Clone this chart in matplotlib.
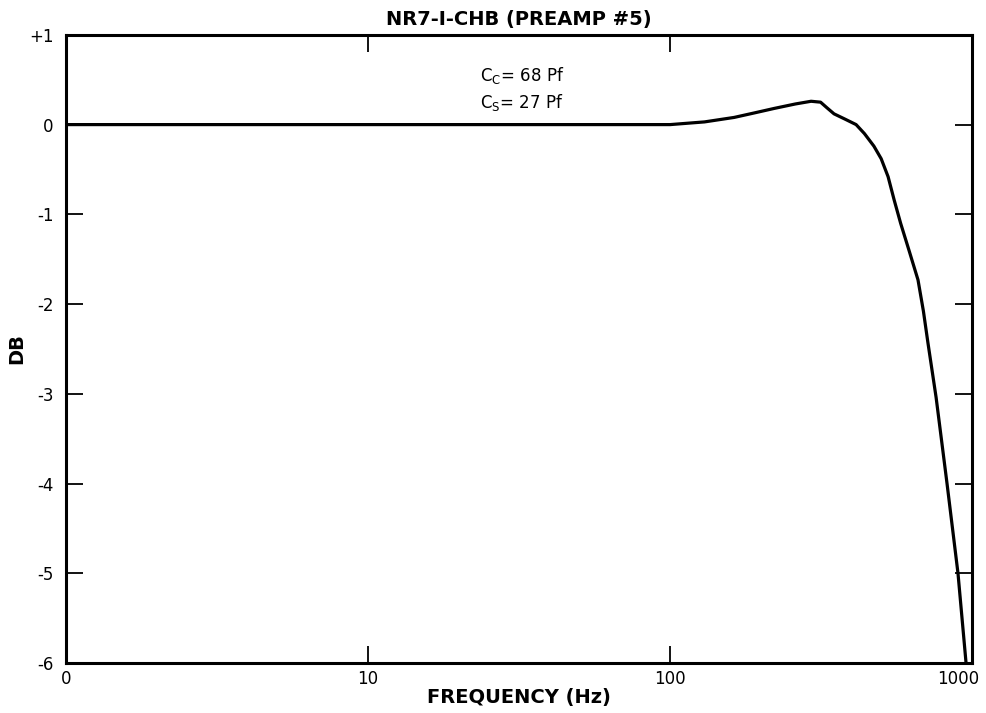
import matplotlib
matplotlib.use('Agg')
import matplotlib.pyplot as plt
import matplotlib.transforms as mtransforms

# response (frequency in Hz, level in dB)
freq = [1, 10, 100, 130, 163, 190, 221, 260, 293, 315, 330, 349, 380, 413, 440,
        473, 500, 527, 552, 580, 618, 662, 690, 714, 760, 826, 898, 955]
db = [0, 0, 0, 0.03, 0.08, 0.13, 0.18, 0.23, 0.26, 0.25, 0.19, 0.12, 0.06, 0.0, -0.1,
      -0.24, -0.38, -0.58, -0.84, -1.1, -1.40, -1.73, -2.08, -2.43, -3.04, -4.0, -5.0, -6.0]

xticks = [1, 10, 100, 1000]
xlabels = ['0', '10', '100', '1000']
yticks = [1, 0, -1, -2, -3, -4, -5, -6]
ylabels = ['+1', '0', '-1', '-2', '-3', '-4', '-5', '-6']

plt.rcParams['font.family'] = ['DejaVu Sans']

fig = plt.figure(figsize=(9.87, 7.13), dpi=100)
ax = fig.add_axes([0.0669, 0.0701, 0.918, 0.881])

ax.plot(freq, db, color='black', lw=2.3, solid_joinstyle='round', solid_capstyle='round')

ax.set_xscale('log')
ax.set_xlim(1, 1000)
ax.set_ylim(-6, 1)
ax.minorticks_off()
ax.set_xticks(xticks)
ax.set_xticklabels(xlabels, fontsize=12)
ax.set_yticks(yticks)
ax.set_yticklabels(ylabels, fontsize=12)
ax.tick_params(direction='in', length=12, width=1.3, top=True, right=True)
ax.tick_params(axis='y', pad=9)
ax.tick_params(axis='x', pad=5)

# last x label sits a little left of the corner, as in the scan
last = ax.get_xticklabels()[-1]
last.set_transform(last.get_transform() + mtransforms.ScaledTranslation(-10 / 72, 0, fig.dpi_scale_trans))

for s in ax.spines.values():
    s.set_linewidth(2.2)

ax.set_title('NR7-I-CHB (PREAMP #5)', fontsize=14, fontweight='bold', pad=7)
ax.set_xlabel('FREQUENCY (Hz)', fontsize=14, fontweight='bold', labelpad=0)
ax.set_ylabel('DB', fontsize=14, fontweight='bold')
ax.yaxis.set_label_coords(-0.044, 0.5)

ax.text(0.503, 0.936, r'C$_\mathregular{C}$= 68 Pf', transform=ax.transAxes,
        ha='center', va='center', fontsize=12)
ax.text(0.503, 0.892, r'C$_\mathregular{S}$= 27 Pf', transform=ax.transAxes,
        ha='center', va='center', fontsize=12)

plt.savefig('out.png', dpi=100)
